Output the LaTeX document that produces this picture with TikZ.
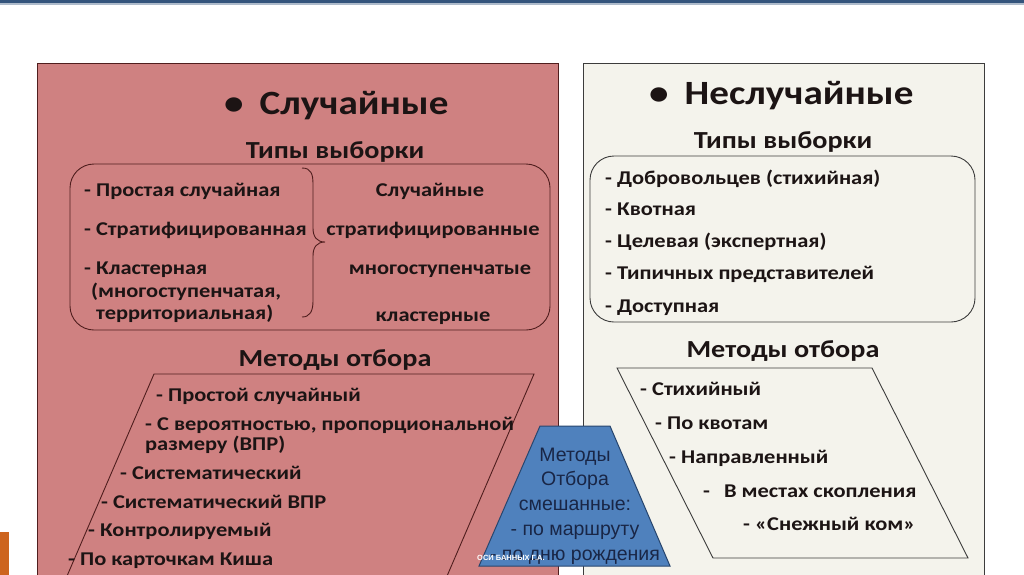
\documentclass[tikz,border=0pt]{standalone}
\usepackage{fontspec}
\setmainfont{Carlito}[FakeStretch=1.15]
\newfontfamily\arialf{Liberation Sans}
\definecolor{leftfill}{RGB}{207,129,129}
\definecolor{rightfill}{RGB}{244,243,236}
\definecolor{leftline}{RGB}{80,30,30}
\definecolor{rightline}{RGB}{60,60,60}
\definecolor{trapfill}{RGB}{79,129,189}
\definecolor{trapline}{RGB}{40,70,110}
\definecolor{traptext}{RGB}{25,38,70}
\definecolor{txt}{RGB}{28,20,20}
\definecolor{topbar}{RGB}{52,84,124}
\definecolor{orangebar}{RGB}{205,100,30}
\tikzset{
  item/.style={anchor=west,inner sep=0pt,text=txt,font=\fontsize{19.5}{21}\selectfont\bfseries,text height=0.72em,text depth=0.22em},
  citem/.style={item,anchor=center},
  heading/.style={anchor=center,inner sep=0pt,text=txt,font=\fontsize{24.5}{26}\selectfont\bfseries},
  title/.style={anchor=west,inner sep=0pt,text=txt,font=\fontsize{34}{36}\selectfont\bfseries},
  panel/.style={line width=1pt},
  inner/.style={line width=0.9pt},
}
\begin{document}
\begin{tikzpicture}[x=1pt,y=-1pt]
\useasboundingbox (0,0) rectangle (1024,574);
\clip (0,0) rectangle (1024,574);
\fill[white] (0,0) rectangle (1024,574);
% top bar
\fill[topbar] (0,0) rectangle (1024,3);
\fill[topbar!40] (0,3) rectangle (1024,5);
% orange mark
\fill[orangebar] (0,532) rectangle (9,580);
% panels
\draw[panel,fill=leftfill,draw=leftline] (37,63) rectangle (558,600);
\draw[panel,fill=rightfill,draw=rightline] (583,63) rectangle (984,600);
% titles
\node[title] (ltitle) at (224,106) {•\hspace{16pt}Случайные};
\node[title] (rtitle) at (649,96) {•\hspace{16pt}Неслучайные};
\node[heading] (lhead1) at (335,152) {Типы выборки};
\node[heading] (rhead1) at (783,142) {Типы выборки};
\node[heading] (lhead2) at (335,360) {Методы отбора};
\node[heading] (rhead2) at (783,351) {Методы отбора};
% rounded boxes
\draw[inner,draw=leftline,rounded corners=24pt] (70,164) rectangle (550,330);
\draw[inner,draw=rightline,rounded corners=24pt] (590,156) rectangle (975,322);
% brace
\draw[inner,draw=leftline] (302,168) .. controls (311,168) and (313,174) .. (313,184) -- (313,228)
  .. controls (313,237) and (317,242) .. (325,242)
  .. controls (317,242) and (313,247) .. (313,256) -- (313,301)
  .. controls (313,311) and (310,317) .. (302,317);
% left types
\node[item] (l1) at (84,194) {- Простая случайная};
\node[item] (l2) at (84,233) {- Стратифицированная};
\node[item] (l3) at (84,272) {- Кластерная};
\node[item] (l4) at (91,295) {(многоступенчатая,};
\node[item] (l5) at (96,317) {территориальная)};
\node[citem] (r1) at (430,194) {Случайные};
\node[citem] (r2) at (433,233) {стратифицированные};
\node[citem] (r3) at (440,272) {многоступенчатые};
\node[citem] (r4) at (433,319) {кластерные};
% right types
\node[item] (n1) at (605,182) {- Добровольцев (стихийная)};
\node[item] (n2) at (605,213) {- Квотная};
\node[item] (n3) at (605,245) {- Целевая (экспертная)};
\node[item] (n4) at (605,277) {- Типичных представителей};
\node[item] (n5) at (605,310) {- Доступная};
% left parallelogram
\draw[inner,draw=leftline] (154,374) -- (534,374) -- (441,590) -- (61,590) -- cycle;
\node[item] (m1) at (156,399) {- Простой случайный};
\node[item] (m2) at (145,428) {- С вероятностью, пропорциональной};
\node[item] (m3) at (145,448) {размеру (ВПР)};
\node[item] (m4) at (120,477) {- Систематический};
\node[item] (m5) at (101,506) {- Систематический ВПР};
\node[item] (m6) at (88,534) {- Контролируемый};
\node[item] (m7) at (68,563) {- По карточкам Киша};
% right parallelogram
\draw[inner,draw=rightline] (617,368) -- (872,368) -- (968,558) -- (713,558) -- cycle;
\node[item] (s1) at (640,393) {- Стихийный};
\node[item] (s2) at (655,427) {- По квотам};
\node[item] (s3) at (669,461) {- Направленный};
\node[item] (s4) at (703,495) {-\hspace{14pt}В местах скопления};
\node[item] (s5) at (743,528) {- «Снежный ком»};
% mixed trapezoid
\draw[line width=1pt,fill=trapfill,draw=trapline] (540,426) -- (610,426) -- (670,566) -- (479,566) -- cycle;
\node[anchor=center,inner sep=0pt,align=center,text=traptext,font=\arialf\fontsize{19.5}{24.8}\selectfont] (mix) at (575,506)
  {Методы\\Отбора\\смешанные:\\- по маршруту\\- по дню рождения};
\node[anchor=west,inner sep=0pt,text=white,font=\arialf\fontsize{7.5}{8}\selectfont\bfseries] (wm) at (477,558) {ОСИ БАННЫХ Г.А.};
\end{tikzpicture}
\end{document}
